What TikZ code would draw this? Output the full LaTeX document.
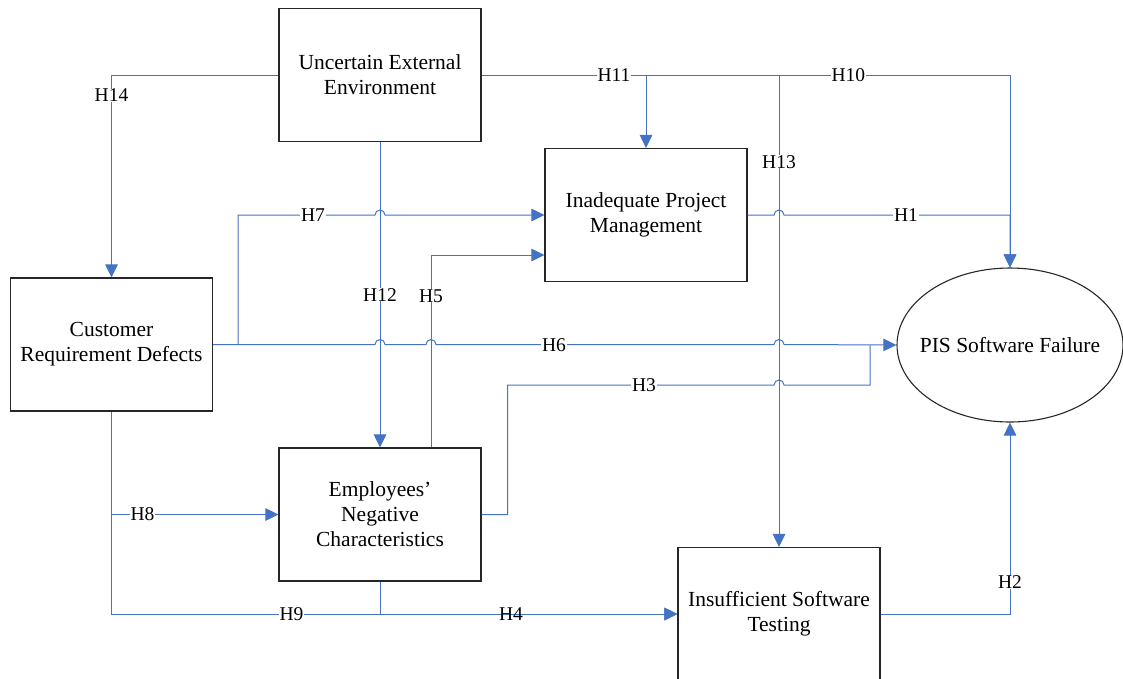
\documentclass[tikz,border=0pt]{standalone}
\usepackage{fontspec}
\setmainfont{Liberation Serif}
\usepackage{xcolor}
\definecolor{lienBleu}{HTML}{4472C4}
\definecolor{bordGris}{HTML}{262626}
\usetikzlibrary{arrows.meta, positioning, calc, shapes.geometric}
\newcommand{\saut}{arc[start angle=180, end angle=360, radius=5]}
\tikzset{
  %% ── Boxes ────────────────────────────────────────────────────────────
  facteur/.style    = {draw=bordGris, line width=1.1pt, fill=white,
                       align=center, minimum width=202pt, minimum height=133pt,
                       inner sep=2pt, font=\fontsize{21.5}{25}\selectfont},
  issue/.style      = {facteur, draw=none, fill=none, minimum width=226pt,
                       minimum height=154pt},
  %%
  %% ── Arrows ───────────────────────────────────────────────────────────
  lien/.style       = {draw=lienBleu, line width=1pt},
  fleche/.style     = {lien, -{Triangle[length=13pt, width=12.5pt]}},
  %%
  %% ── Text ─────────────────────────────────────────────────────────────
  etiquette/.style  = {font=\fontsize{19.5}{21}\selectfont, fill=white,
                       inner xsep=1pt, inner ysep=0pt},
}

\begin{document}
\begin{tikzpicture}[x=1pt, y=-1pt]

\useasboundingbox (0,0) rectangle (1123,678);
\begin{scope}
\clip (0,0) rectangle (1123,678);

\node[facteur] (uee) at (380, 75)   {Uncertain External\\Environment};
\node[facteur] (ipm) at (646, 215)  {Inadequate Project\\Management};
\node[facteur] (crd) at (111.5, 344.5) {Customer\\Requirement Defects};
\node[facteur] (enc) at (380, 514.5) {Employees’\\Negative\\Characteristics};
\node[facteur] (ist) at (779, 614)  {Insufficient Software\\Testing};
\node[issue]   (pis) at (1010, 345) {PIS Software Failure};
\draw[draw=bordGris, line width=1.1pt] (pis.center) ellipse [x radius=113, y radius=77];

% from the environment
\draw[fleche] (uee.west) -| (crd.north)
      node[etiquette, pos=0.55] {H14};
\draw[fleche] (uee.east) -| (pis.north)
      node[etiquette, pos=0.347] {H10};
\draw[fleche] (ipm.north |- uee.east) -- (ipm.north);
\node[etiquette] (l11) at (614, 75) {H11};
\draw[fleche] (ist.north |- uee.east) -- (ist.north)
      node[etiquette, pos=0.184] {H13};
\draw[fleche] (uee.south) -- (enc.north)
      node[etiquette, pos=0.50] {H12};

% from the customer requirements
\draw[fleche] ([xshift=25pt]crd.east) |- ([xshift=-5pt]uee.south |- ipm.west) \saut
      -- (ipm.west);
\node[etiquette] (l7) at (313, 215) {H7};
\draw[fleche] (crd.east) -- ([xshift=-5pt]uee.south |- crd.east) \saut
      -- ([xshift=46pt]uee.south |- crd.east) \saut
      -- ([xshift=-5pt]ist.north |- crd.east) \saut
      -- (pis.west);
\node[etiquette] (l6) at (554, 345) {H6};
\draw[fleche] (crd.south) |- (enc.west)
      node[etiquette, pos=0.593] {H8};
\draw[fleche] (crd.south) |- (ist.west)
      node[etiquette, pos=0.659] {H9};

% from the employees
\draw[fleche] ([xshift=51pt]enc.north) |- ([yshift=-40pt]ipm.west)
      node[etiquette, pos=0.394] {H5};
\draw[lien] (enc.east) -- ++(26,0) |- ([xshift=-5pt]ist.north |- 0,385) \saut
      -- (870,385) -- (870,345);
\node[etiquette] (l3) at (644, 385) {H3};
\draw[fleche] (enc.south) |- (ist.west);
\node[etiquette, fill=none] (l4) at (511, 614) {H4};

% to the failure
\draw[fleche] (ipm.east) -- ([xshift=-5pt]ist.north |- ipm.east) \saut
      -| (pis.north);
\node[etiquette] (l1) at (906, 215) {H1};
\draw[fleche] (ist.east) -| (pis.south)
      node[etiquette, pos=0.583] {H2};

\end{scope}
\end{tikzpicture}
\end{document}
